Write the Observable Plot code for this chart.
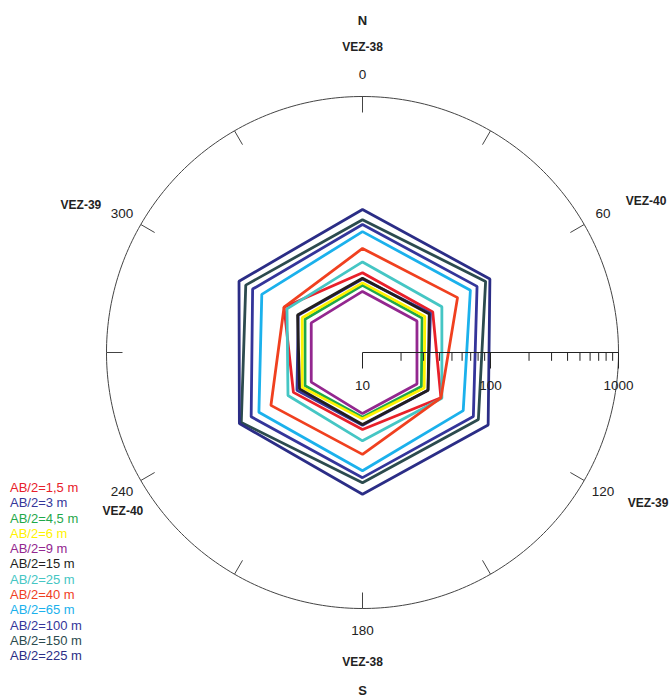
<!DOCTYPE html>
<html>
<head>
<meta charset="utf-8">
<script src="https://cdn.jsdelivr.net/npm/d3@7"></script>
<script src="https://cdn.jsdelivr.net/npm/@observablehq/plot@0.6"></script>
<style>
  body { margin: 0; background: #fff; font-family: "Liberation Sans", Arial, sans-serif; }
  #wrap { position: relative; width: 671px; height: 699px; overflow: hidden; }
  #legend { position: absolute; left: 10px; top: 480px; font-size: 13px; line-height: 15.3px; }
</style>
</head>
<body>
<div id="wrap"><div id="legend"></div></div>
<script>
// ---- data ----
const angles = [0, 60, 120, 180, 240, 300];
const siteNames = ["VEZ-38", "VEZ-40", "VEZ-39", "VEZ-38", "VEZ-40", "VEZ-39"];
const radialTicks = [10, 100, 1000];
const spacings = ["AB/2=1,5 m", "AB/2=3 m", "AB/2=4,5 m", "AB/2=6 m", "AB/2=9 m", "AB/2=15 m",
                  "AB/2=25 m", "AB/2=40 m", "AB/2=65 m", "AB/2=100 m", "AB/2=150 m", "AB/2=225 m"];
const colors = ["#e8202a", "#35369a", "#1fa84a", "#fff200", "#93278f", "#231f20",
                "#45c6c4", "#f0401f", "#1bb1ec", "#34359a", "#2c4b4e", "#2b2d86"];
// apparent resistivity (ohm.m) at azimuths 0,60,120,180,240,300
const ab1_5 = [42, 43, 51, 40, 42, 51];
const ab3   = [37.5, 41, 39, 37, 39, 38];
const ab4_5 = [33.5, 34.5, 34, 32, 33, 33];
const ab6   = [35, 36.5, 36, 33, 35, 35];
const ab9   = [30, 31, 31, 30, 29, 29];
const ab15  = [38, 40, 39, 36.5, 37, 38.5];
const ab25  = [51, 52, 52, 49, 47, 48];
const ab40  = [65, 72, 51, 62.5, 67, 51];
const ab65  = [88, 94, 81, 84, 86, 81];
const ab100 = [100, 108, 100, 95, 101, 98];
const ab150 = [109, 129, 111, 104, 124, 113];
const ab225 = [131, 141, 136, 128, 129, 130];
const seriesValues = [ab1_5, ab3, ab4_5, ab6, ab9, ab15, ab25, ab40, ab65, ab100, ab150, ab225];

// ---- geometry helpers ----
const W = 671, H = 699, cx = 362, cy = 352, k = 128; // px per decade
const rad = v => Math.log10(v) - Math.log10(radialTicks[0]);
const rMax = rad(radialTicks[radialTicks.length - 1]);
const toRad = a => a * Math.PI / 180;
const px = (r, a) => r * Math.sin(toRad(a));
const py = (r, a) => r * Math.cos(toRad(a));

const rows = spacings.flatMap((s, i) => angles.map((a, j) => ({series: s, angle: a, value: seriesValues[i][j]})));
const circle = d3.range(0, 361, 1);
const rimTicks = d3.range(0, 360, 30);
const minorTicks = d3.range(0, 2).flatMap(e => d3.range(2, 10).map(m => m * Math.pow(10, e + 1)));

const labelR = rMax + 0.17;
// pixel offsets of the site names from the angle labels
const siteOffsets = [[0, -28], [43, -12], [45, 12], [0, 32], [1, 20], [-41, -8]];
const angleLabels = angles.map((a, i) => ({angle: a, label: String(a), site: siteNames[i],
  ox: siteOffsets[i][0] / k, oy: -siteOffsets[i][1] / k}));

const font = "Liberation Sans, Arial, sans-serif";
const chart = Plot.plot({
  width: W, height: H, margin: 0,
  x: {domain: [-cx / k, (W - cx) / k], axis: null},
  y: {domain: [-(H - cy) / k, cy / k], axis: null},
  color: {domain: spacings, range: colors},
  style: {fontFamily: font, background: "white", overflow: "hidden"},
  marks: [
    Plot.line(circle, {x: a => px(rMax, a), y: a => py(rMax, a), stroke: "#444", strokeWidth: 1}),
    Plot.link(rimTicks, {x1: a => px(rMax, a), y1: a => py(rMax, a), x2: a => px(rMax - 0.125, a), y2: a => py(rMax - 0.125, a), stroke: "#444", strokeWidth: 1}),
    Plot.line(rows, {x: d => px(rad(d.value), d.angle), y: d => py(rad(d.value), d.angle), z: "series", stroke: "series",
      curve: "linear-closed", strokeWidth: 2.8, strokeLinejoin: "miter"}),
    Plot.link([0], {x1: 0, y1: 0, x2: rMax, y2: 0, stroke: "#222", strokeWidth: 1}),
    Plot.link(radialTicks, {x1: v => rad(v), x2: v => rad(v), y1: 0, y2: -0.125, stroke: "#222", strokeWidth: 1}),
    Plot.link(minorTicks, {x1: v => rad(v), x2: v => rad(v), y1: 0, y2: -0.065, stroke: "#222", strokeWidth: 1}),
    Plot.text(radialTicks, {x: v => rad(v), y: 0, text: v => String(v), dy: 33, fontSize: 13.5, fill: "#222"}),
    Plot.text(angleLabels, {x: d => px(labelR, d.angle), y: d => py(labelR, d.angle), text: "label", fontSize: 13.5, fill: "#222"}),
    Plot.text(angleLabels, {x: d => px(labelR, d.angle) + d.ox, y: d => py(labelR, d.angle) + d.oy, text: "site",
      fontSize: 12, fontWeight: "bold", fill: "#222"}),
    Plot.text(["N"], {x: 0, y: cy / k, text: d => d, dy: 20, fontSize: 13, fontWeight: "bold", fill: "#222"}),
    Plot.text(["S"], {x: 0, y: -(H - cy) / k, text: d => d, dy: -9, fontSize: 13, fontWeight: "bold", fill: "#222"})
  ]
});
document.getElementById("wrap").prepend(chart);

const legend = document.getElementById("legend");
spacings.forEach((s, i) => {
  const div = document.createElement("div");
  div.textContent = s;
  div.style.color = colors[i];
  legend.appendChild(div);
});
</script>
</body>
</html>
